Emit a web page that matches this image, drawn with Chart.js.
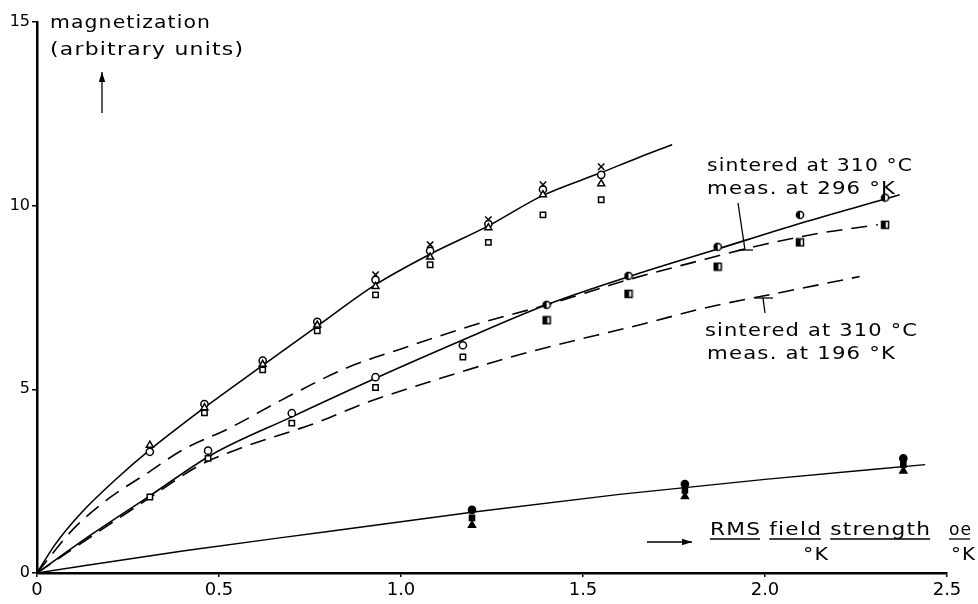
<!DOCTYPE html>
<html><head><meta charset="utf-8">
<script src="https://cdn.jsdelivr.net/npm/chart.js@4.4.1/dist/chart.umd.min.js"></script>
<style>html,body{margin:0;padding:0;background:#fff}canvas{display:block}</style>
</head><body>
<canvas id="c" width="978" height="604"></canvas>
<script>
// ---------- tick labels ----------
const xTickValues = [0, 0.5, 1.0, 1.5, 2.0, 2.5];
const xTickLabels = ['0', '0.5', '1.0', '1.5', '2.0', '2.5'];
const yTickValues = [0, 5, 10, 15];
const yTickLabels = ['0', '5', '10', '15'];

// ---------- top group (solid curve) ----------
const topLineX = [0, 0.05, 0.12, 0.22, 0.31, 0.46, 0.62, 0.77, 0.93, 1.08, 1.24, 1.39, 1.55, 1.65, 1.745];
const topLineY = [0, 0.78, 1.62, 2.58, 3.35, 4.5, 5.65, 6.72, 7.85, 8.68, 9.45, 10.28, 10.9, 11.3, 11.66];
const topCrossX = [0.93, 1.08, 1.24, 1.39, 1.55];
const topCrossY = [8.12, 8.94, 9.62, 10.57, 11.06];
const topCircleX = [0.31, 0.46, 0.62, 0.77, 0.93, 1.08, 1.24, 1.39, 1.55];
const topCircleY = [3.3, 4.6, 5.78, 6.84, 7.98, 8.77, 9.5, 10.44, 10.84];
const topTriangleX = [0.31, 0.46, 0.62, 0.77, 0.93, 1.08, 1.24, 1.39, 1.55];
const topTriangleY = [3.48, 4.5, 5.68, 6.75, 7.8, 8.6, 9.4, 10.3, 10.6];
const topSquareX = [0.46, 0.62, 0.77, 0.93, 1.08, 1.24, 1.39, 1.55];
const topSquareY = [4.36, 5.53, 6.59, 7.57, 8.39, 9.0, 9.75, 10.16];

// ---------- middle group ----------
const midSolidX = [0, 0.15, 0.31, 0.48, 0.7, 0.93, 1.16, 1.4, 1.63, 1.87, 2.1, 2.33];
const midSolidY = [0, 1.05, 2.1, 3.22, 4.25, 5.3, 6.3, 7.3, 8.08, 8.82, 9.53, 10.18];
const midTailX = [2.33, 2.37];
const midTailY = [10.18, 10.3];
const upperDashX = [0, 0.1, 0.2, 0.3, 0.4, 0.53, 0.67, 0.85, 1.0, 1.2, 1.4, 1.63, 1.8, 2.0, 2.15, 2.31];
const upperDashY = [0, 1.2, 2.05, 2.7, 3.35, 3.95, 4.7, 5.58, 6.1, 6.75, 7.3, 8.0, 8.45, 8.95, 9.25, 9.48];
const lowerDashX = [0, 0.15, 0.31, 0.45, 0.56, 0.77, 0.9, 1.115, 1.346, 1.657, 1.85, 2.04, 2.26];
const lowerDashY = [0, 1.0, 2.05, 2.95, 3.4, 4.1, 4.62, 5.32, 6.0, 6.76, 7.25, 7.63, 8.07];
const midCircleOpenX = [0.47, 0.70, 0.93, 1.17];
const midCircleOpenY = [3.33, 4.35, 5.33, 6.2];
const midSquareOpenX = [0.31, 0.47, 0.70, 0.93, 1.17];
const midSquareOpenY = [2.07, 3.12, 4.08, 5.05, 5.88];
const midCircleHalfX = [1.40, 1.625, 1.87, 2.096, 2.33];
const midCircleHalfY = [7.3, 8.09, 8.88, 9.75, 10.22];
const midSquareHalfX = [1.40, 1.625, 1.87, 2.096, 2.33];
const midSquareHalfY = [6.88, 7.6, 8.34, 9.0, 9.48];

// ---------- bottom group ----------
const lowLineX = [0, 0.4, 0.8, 1.2, 1.6, 2.0, 2.44];
const lowLineY = [0, 0.6, 1.13, 1.66, 2.14, 2.55, 2.95];
const lowMarkX = [1.195, 1.78, 2.38];
const lowCircleY = [1.72, 2.42, 3.12];
const lowSquareY = [1.5, 2.25, 2.95];
const lowTriangleY = [1.3, 2.08, 2.78];

const FONT = '"DejaVu Sans", sans-serif';
const pts = (xs, ys) => xs.map((x, i) => ({x: x, y: ys[i]}));

function halfImage(shape) {
  const c = document.createElement('canvas');
  c.width = 10; c.height = 10;
  const g = c.getContext('2d');
  g.fillStyle = '#fff'; g.strokeStyle = '#000'; g.lineWidth = 1.5;
  if (shape === 'circle') {
    g.beginPath(); g.arc(5, 5, 3.6, 0, Math.PI * 2); g.fill(); g.stroke();
    g.beginPath(); g.arc(5, 5, 3.6, Math.PI / 2, Math.PI * 1.5); g.closePath(); g.fillStyle = '#000'; g.fill();
  } else {
    g.fillRect(1.5, 1.5, 7, 7); g.strokeRect(1.5, 1.5, 7, 7);
    g.fillStyle = '#000'; g.fillRect(1.5, 1.5, 4.2, 7);
  }
  return c;
}
const halfCircle = halfImage('circle');
const halfSquare = halfImage('square');

function lineDs(xs, ys, dash, width) {
  return {data: pts(xs, ys), showLine: true, borderColor: '#000', borderWidth: width || 1.6,
    borderDash: dash || [], pointRadius: 0, cubicInterpolationMode: 'monotone', fill: false, order: 2};
}
function markDs(xs, ys, style, fillColor, r) {
  return {data: pts(xs, ys), showLine: false, pointStyle: style, pointRadius: r || 4,
    pointBorderColor: '#000', pointBackgroundColor: fillColor, pointBorderWidth: 1.5, order: 1};
}

const datasets = [
  lineDs(topLineX, topLineY),
  lineDs(midSolidX, midSolidY),
  lineDs(midTailX, midTailY),
  lineDs(upperDashX, upperDashY, [16, 9]),
  lineDs(lowerDashX, lowerDashY, [16, 9]),
  lineDs(lowLineX, lowLineY, [], 1.4),
  markDs(topSquareX, topSquareY, 'rect', '#fff', 3.8),
  markDs(topTriangleX, topTriangleY, 'triangle', '#fff', 4),
  markDs(topCircleX, topCircleY, 'circle', '#fff', 3.6),
  markDs(topCrossX, topCrossY, 'crossRot', '#fff', 4.5),
  markDs(midSquareOpenX, midSquareOpenY, 'rect', '#fff', 3.8),
  markDs(midCircleOpenX, midCircleOpenY, 'circle', '#fff', 3.6),
  markDs(midSquareHalfX, midSquareHalfY, halfSquare, '#fff', 4),
  markDs(midCircleHalfX, midCircleHalfY, halfCircle, '#fff', 4),
  markDs(lowMarkX, lowTriangleY, 'triangle', '#000', 4),
  markDs(lowMarkX, lowSquareY, 'rect', '#000', 3.6),
  markDs(lowMarkX, lowCircleY, 'circle', '#000', 3.6)
];

// draw text stretched horizontally to a target width (wide lettering look)
function spaced(ctx, text, x, y, size, width) {
  ctx.save();
  ctx.font = size + 'px ' + FONT;
  ctx.letterSpacing = '1px';
  const w = ctx.measureText(text).width - 1;
  const sx = width / w;
  ctx.textAlign = 'left'; ctx.textBaseline = 'alphabetic';
  ctx.translate(x, y);
  ctx.scale(sx, 1);
  ctx.fillText(text, 0, 0);
  ctx.restore();
  return {sx: sx, size: size};
}
function underlineWords(ctx, text, x, info, uy) {
  ctx.save();
  ctx.font = info.size + 'px ' + FONT;
  ctx.letterSpacing = '1px';
  const words = text.split(' ');
  let pos = 0;
  const sp = ctx.measureText(' ').width;
  words.forEach(wd => {
    const w = ctx.measureText(wd).width - 1;
    ctx.beginPath(); ctx.moveTo(x + pos * info.sx, uy); ctx.lineTo(x + (pos + w) * info.sx, uy); ctx.stroke();
    pos += w + 1 + sp;
  });
  ctx.restore();
}
function arrow(ctx, x1, y1, x2, y2) {
  ctx.beginPath(); ctx.moveTo(x1, y1); ctx.lineTo(x2, y2); ctx.stroke();
  const a = Math.atan2(y2 - y1, x2 - x1), L = 10, W = 3.2;
  ctx.beginPath();
  ctx.moveTo(x2, y2);
  ctx.lineTo(x2 - L * Math.cos(a) + W * Math.sin(a), y2 - L * Math.sin(a) - W * Math.cos(a));
  ctx.lineTo(x2 - L * Math.cos(a) - W * Math.sin(a), y2 - L * Math.sin(a) + W * Math.cos(a));
  ctx.closePath(); ctx.fill();
}

const annotations = {
  id: 'annotations',
  afterDraw(chart) {
    const ctx = chart.ctx;
    ctx.save();
    ctx.fillStyle = '#000'; ctx.strokeStyle = '#000'; ctx.lineWidth = 1.3;
    spaced(ctx, 'magnetization', 50, 28, 18, 160);
    spaced(ctx, '(arbitrary units)', 50, 55, 18, 193);
    arrow(ctx, 102, 113, 102, 72);
    spaced(ctx, 'sintered at 310 °C', 707, 171, 18, 205);
    spaced(ctx, 'meas. at 296 °K', 707, 194, 18, 188);
    ctx.beginPath(); ctx.moveTo(738, 203); ctx.lineTo(745, 250); ctx.stroke();
    ctx.beginPath(); ctx.moveTo(739, 250); ctx.lineTo(753, 250); ctx.stroke();
    spaced(ctx, 'sintered at 310 °C', 705, 336, 18, 212);
    spaced(ctx, 'meas. at 196 °K', 707, 359, 18, 188);
    ctx.beginPath(); ctx.moveTo(755, 298); ctx.lineTo(773, 298); ctx.stroke();
    ctx.beginPath(); ctx.moveTo(763, 298); ctx.lineTo(765, 313); ctx.stroke();
    const info = spaced(ctx, 'RMS field strength', 710, 535, 18, 220);
    underlineWords(ctx, 'RMS field strength', 710, info, 539);
    spaced(ctx, '°K', 803, 560, 18, 25);
    spaced(ctx, 'oe', 949, 535, 18, 22);
    ctx.beginPath(); ctx.moveTo(949, 539); ctx.lineTo(970, 539); ctx.stroke();
    spaced(ctx, '°K', 951, 560, 18, 24);
    arrow(ctx, 647, 542, 692, 542);
    ctx.restore();
  }
};

new Chart(document.getElementById('c'), {
  type: 'scatter',
  data: {datasets: datasets},
  options: {
    responsive: false, animation: false, events: [],
    layout: {padding: {top: 22, right: 31, left: 0, bottom: 0}},
    plugins: {legend: {display: false}, tooltip: {enabled: false}},
    scales: {
      x: {
        type: 'linear', min: 0, max: 2.5,
        afterBuildTicks: s => { s.ticks = xTickValues.map(v => ({value: v})); },
        afterFit: s => { s.height = 31; },
        border: {display: true, color: '#000', width: 2.5},
        grid: {display: true, drawOnChartArea: false, drawTicks: true, tickLength: 4, color: '#000', lineWidth: 1.5},
        ticks: {color: '#000', padding: 3, maxRotation: 0, font: {family: FONT, size: 18},
          callback: (v, i) => xTickLabels[i]}
      },
      y: {
        type: 'linear', min: 0, max: 15,
        afterBuildTicks: s => { s.ticks = yTickValues.map(v => ({value: v})); },
        afterFit: s => { s.width = 37; },
        border: {display: true, color: '#000', width: 2.5},
        grid: {display: true, drawOnChartArea: false, drawTicks: true, tickLength: 5, color: '#000', lineWidth: 1.5},
        ticks: {color: '#000', padding: 2, font: {family: FONT, size: 16},
          callback: (v, i) => yTickLabels[i]}
      }
    }
  },
  plugins: [annotations]
});
</script>
</body></html>
